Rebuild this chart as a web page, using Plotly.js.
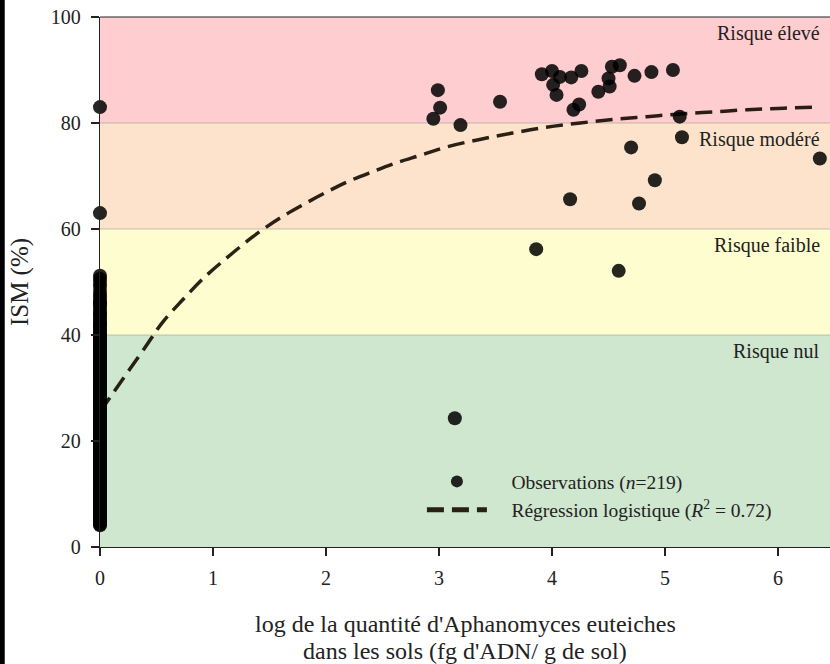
<!DOCTYPE html>
<html>
<head>
<meta charset="utf-8">
<script src="https://cdn.plot.ly/plotly-3.0.1.min.js"></script>
<style>
  html, body { margin: 0; padding: 0; background: #ffffff; }
  #chart { width: 830px; height: 664px; }
</style>
</head>
<body>
<div id="chart"></div>
<script>
// ---- Data ----
// Observations at log quantity = 0 (dense column)
const zeroObsY = [
  4.1, 4.3, 4.8, 5.0, 5.2, 5.6, 5.9, 6.1, 6.4, 6.8, 7.0, 7.3, 7.5, 7.9, 8.2, 8.4, 8.8, 9.1, 9.3, 9.6,
  10.0, 10.2, 10.5, 10.8, 11.0, 11.4, 11.7, 12.0, 12.2, 12.6, 12.9, 13.1, 13.5, 13.8, 14.0, 14.3, 14.7,
  15.0, 15.2, 15.6, 15.9, 16.1, 16.5, 16.8, 17.0, 17.4, 17.7, 18.0, 18.3, 18.6, 18.9, 19.2, 19.5, 19.8,
  20.0, 20.3, 20.7, 21.0, 21.2, 21.6, 21.9, 22.1, 22.5, 22.8, 23.0, 23.4, 23.7, 24.0, 24.2, 24.6, 24.9,
  25.1, 25.5, 25.8, 26.0, 26.4, 26.7, 27.0, 27.3, 27.6, 27.9, 28.2, 28.5, 28.8, 29.0, 29.4, 29.7, 30.0,
  30.3, 30.6, 30.9, 31.2, 31.5, 31.8, 32.0, 32.4, 32.7, 33.0, 33.3, 33.6, 33.9, 34.2, 34.5, 34.8, 35.0,
  35.4, 35.7, 36.0, 36.3, 36.6, 36.9, 37.2, 37.5, 37.8, 38.0, 38.4, 38.7, 39.0, 39.3, 39.6, 39.9, 40.2,
  40.6, 41.0, 41.4, 41.8, 42.3, 42.8, 43.3, 43.8, 44.4, 45.0, 45.6, 46.2, 46.9, 47.5, 48.3, 49.2, 50.0,
  50.6, 51.2, 5.5, 8.0, 10.0, 12.5, 15.0, 17.5, 20.0, 22.0, 25.0, 27.5, 30.0, 32.5, 35.0, 37.5, 9.0,
  11.0, 13.0, 14.5, 16.0, 18.0, 19.0, 21.5, 23.5, 24.5, 26.5, 28.0, 29.5, 31.0, 33.5, 34.0, 36.5, 38.5,
  39.5, 6.0, 7.0, 16.5, 20.5, 23.0, 27.0, 30.5, 34.5, 40.0, 42.0, 44.0, 46.0, 63.0, 83.0
];
// Observations with detected inoculum
const obsX = [2.99, 3.01, 2.95, 3.19, 3.54, 3.91, 4.00, 4.07, 4.01, 4.04, 4.17, 4.26, 4.19, 4.24, 4.41,
              4.51, 4.50, 4.53, 4.60, 4.73, 4.88, 5.07, 5.13, 5.15, 4.70, 6.37, 4.91, 4.16, 4.77, 3.86,
              4.59, 3.14];
const obsY = [86.2, 82.9, 80.8, 79.6, 84.0, 89.2, 89.8, 88.7, 87.2, 85.3, 88.6, 89.8, 82.5, 83.5, 85.9,
              86.9, 88.4, 90.6, 90.9, 88.9, 89.6, 90.0, 81.2, 77.3, 75.4, 73.3, 69.2, 65.6, 64.8, 56.2,
              52.1, 24.3];
// Logistic regression curve
const curveX = [0, 0.13, 0.40, 0.55, 0.73, 0.93, 1.13, 1.35, 1.46, 1.61, 1.79, 1.99, 2.19, 2.41, 2.61,
                2.85, 3.07, 3.36, 3.65, 3.95, 4.25, 4.55, 4.84, 5.13, 5.43, 5.73, 6.05, 6.37];
const curveY = [25.5, 29.5, 37.7, 42.3, 46.6, 51.0, 54.7, 58.5, 60.2, 62.3, 64.5, 66.8, 68.9, 70.8, 72.4,
                74.0, 75.5, 76.9, 78.1, 79.2, 80.0, 80.7, 81.2, 81.7, 82.1, 82.5, 82.8, 83.0];
// Risk bands
const bandLabels = ["Risque nul", "Risque faible", "Risque modéré", "Risque élevé"];
const bandLow = [0, 40, 60, 80];
const bandHigh = [40, 60, 80, 100];
const bandColors = ["#cfe6cf", "#fefdcf", "#fde3cb", "#fecdd0"];
const xTicks = [0, 1, 2, 3, 4, 5, 6];
const yTicks = [0, 20, 40, 60, 80, 100];
const xTitleLines = ["log de la quantité d'Aphanomyces euteiches", "dans les sols (fg d'ADN/ g de sol)"];

// ---- Build ----
const allX = zeroObsY.map(() => 0).concat(obsX);
const allY = zeroObsY.concat(obsY);
const serif = "Liberation Serif, Times New Roman, serif";
const pad = "&nbsp;&nbsp;&nbsp;&nbsp;";

const traces = [
  {
    type: "scatter", mode: "lines",
    x: curveX, y: curveY,
    line: { color: "rgba(20,10,0,0.9)", width: 3.5, dash: "17px,8px", shape: "spline" },
    name: pad + "Régression logistique (<i>R</i><sup>2</sup> = 0.72)",
    hoverinfo: "skip", cliponaxis: false
  },
  {
    type: "scatter", mode: "markers",
    x: allX, y: allY,
    marker: { color: "rgba(0,0,0,0.85)", size: 14, line: { width: 0 } },
    name: pad + "Observations (<i>n</i>=219)",
    cliponaxis: false
  }
];

const shapes = [];
const annotations = [];
bandLow.forEach((lo, i) => {
  shapes.push({
    type: "rect", xref: "paper", yref: "y", x0: 0, x1: 1, y0: lo, y1: bandHigh[i],
    fillcolor: bandColors[i], line: { width: 0 }, layer: "below"
  });
  if (lo > 0) {
    shapes.push({
      type: "line", xref: "paper", yref: "y", x0: 0, x1: 1, y0: lo, y1: lo,
      line: { color: "rgba(150,150,150,0.55)", width: 1.2 }, layer: "below"
    });
  }
  annotations.push({
    xref: "paper", yref: "y", x: 0.989, y: bandHigh[i], xanchor: "right", yanchor: "top",
    yshift: -3, text: bandLabels[i], showarrow: false,
    font: { family: serif, size: 20, color: "#222" }
  });
});
// x-axis title (two lines, tight line spacing as in the reference)
xTitleLines.forEach((t, i) => {
  annotations.push({
    xref: "paper", yref: "paper", x: 0.5, y: -0.1453 - 0.0509 * i, xanchor: "center", yanchor: "middle",
    text: t, showarrow: false, font: { family: serif, size: 24, color: "#222" }
  });
});
// top frame line
shapes.push({ type: "line", xref: "paper", yref: "paper", x0: 0, x1: 1, y0: 1, y1: 1,
              line: { color: "#222", width: 1.2 } });
// dark strip at left edge of the image
shapes.push({ type: "rect", xref: "paper", yref: "paper", x0: -0.1375, x1: -0.1305, y0: -0.23, y1: 1.04,
              fillcolor: "#000", line: { width: 0 } });

const layout = {
  width: 830, height: 664,
  margin: { l: 100, r: 0, t: 17, b: 117 },
  paper_bgcolor: "#ffffff", plot_bgcolor: "#ffffff",
  showlegend: true,
  legend: {
    x: 0.441, y: 0.16, xanchor: "left", yanchor: "top",
    bgcolor: "rgba(0,0,0,0)", borderwidth: 0,
    font: { family: serif, size: 19.5, color: "#222" },
    traceorder: "reversed", itemsizing: "constant", itemwidth: 60
  },
  xaxis: {
    range: [0, 6.46], tickvals: xTicks, ticktext: xTicks.map(String),
    showgrid: false, zeroline: false, showline: true, linecolor: "#222", linewidth: 1.2,
    ticks: "outside", ticklen: 8, tickcolor: "#222", tickwidth: 1.2, ticklabelstandoff: 5,
    tickfont: { family: serif, size: 20, color: "#222" }
  },
  yaxis: {
    range: [0, 100], tickvals: yTicks, ticktext: yTicks.map(String),
    showgrid: false, zeroline: false, showline: true, linecolor: "#222", linewidth: 1.2,
    ticks: "outside", ticklen: 8, tickcolor: "#222", tickwidth: 1.2, ticklabelstandoff: 6,
    tickfont: { family: serif, size: 20, color: "#222" },
    title: { text: "ISM (%)", font: { family: serif, size: 25, color: "#222" }, standoff: 15 }
  },
  shapes: shapes,
  annotations: annotations
};

Plotly.newPlot("chart", traces, layout, { displayModeBar: false, staticPlot: true });
</script>
</body>
</html>
